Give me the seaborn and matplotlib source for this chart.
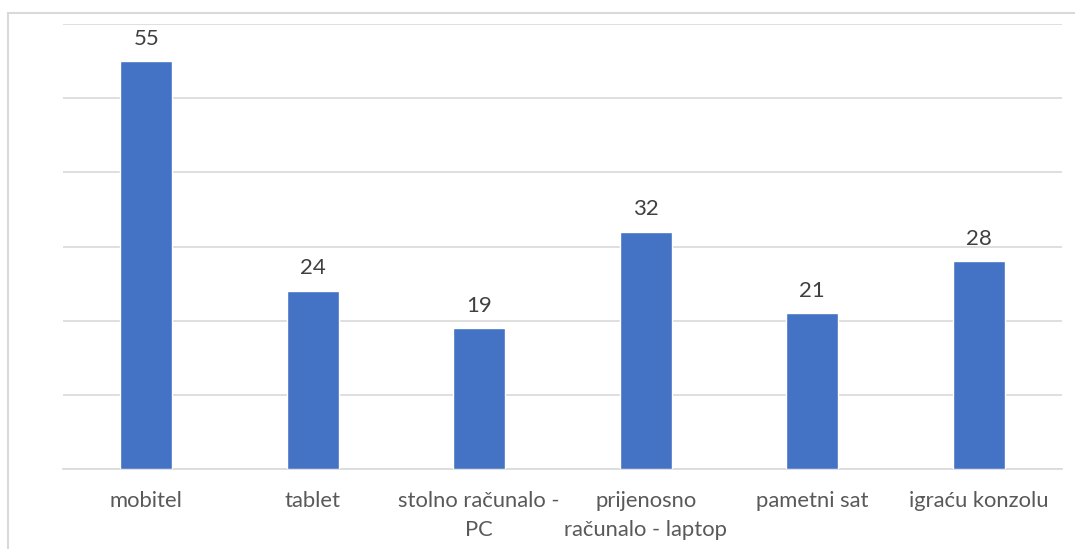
import matplotlib
matplotlib.use("Agg")
import matplotlib.pyplot as plt
import seaborn as sns
import pandas as pd
from matplotlib.patches import Rectangle

# data
categories = ["mobitel", "tablet", "stolno računalo -\nPC", "prijenosno\nračunalo - laptop",
              "pametni sat", "igraću konzolu"]
values = [55, 24, 19, 32, 21, 28]

df = pd.DataFrame({"uređaj": categories, "broj": values})

sns.set_theme(style="white")
plt.rcParams["font.family"] = ["Lato", "DejaVu Sans"]

fig = plt.figure(figsize=(10.75, 5.49), dpi=100)
ax = fig.add_axes([63 / 1075, 1 - 469 / 549, 999 / 1075, 445 / 549])

sns.barplot(data=df, x="uređaj", y="broj", color="#4472C4", width=0.31,
            saturation=1, ax=ax, zorder=3)

ax.set_ylim(0, 60)
ax.set_yticks(range(0, 61, 10))
ax.yaxis.grid(True, color="#d9d9d9", linewidth=1.2, zorder=0)
ax.set_yticklabels([])
ax.tick_params(axis="y", length=0)
ax.tick_params(axis="x", length=0, labelsize=15.8, labelcolor="#595959", pad=16)
for lbl in ax.get_xticklabels():
    lbl.set_linespacing(1.55)
ax.set_xlabel("")
ax.set_ylabel("")
for s in ["top", "right", "left"]:
    ax.spines[s].set_visible(False)
ax.spines["bottom"].set_color("#d9d9d9")
ax.spines["bottom"].set_linewidth(1.2)

for i, v in enumerate(values):
    ax.annotate(str(v), (i, v), xytext=(0, 9), textcoords="offset points",
                ha="center", va="bottom", fontsize=16, color="#404040")

# outer chart border
fig.patches.append(Rectangle((8 / 1075, -0.05), 1.1, 1 - 13 / 549 + 0.05,
                             transform=fig.transFigure, fill=False,
                             edgecolor="#d9d9d9", linewidth=1.5))

fig.savefig("out.png", dpi=100)
